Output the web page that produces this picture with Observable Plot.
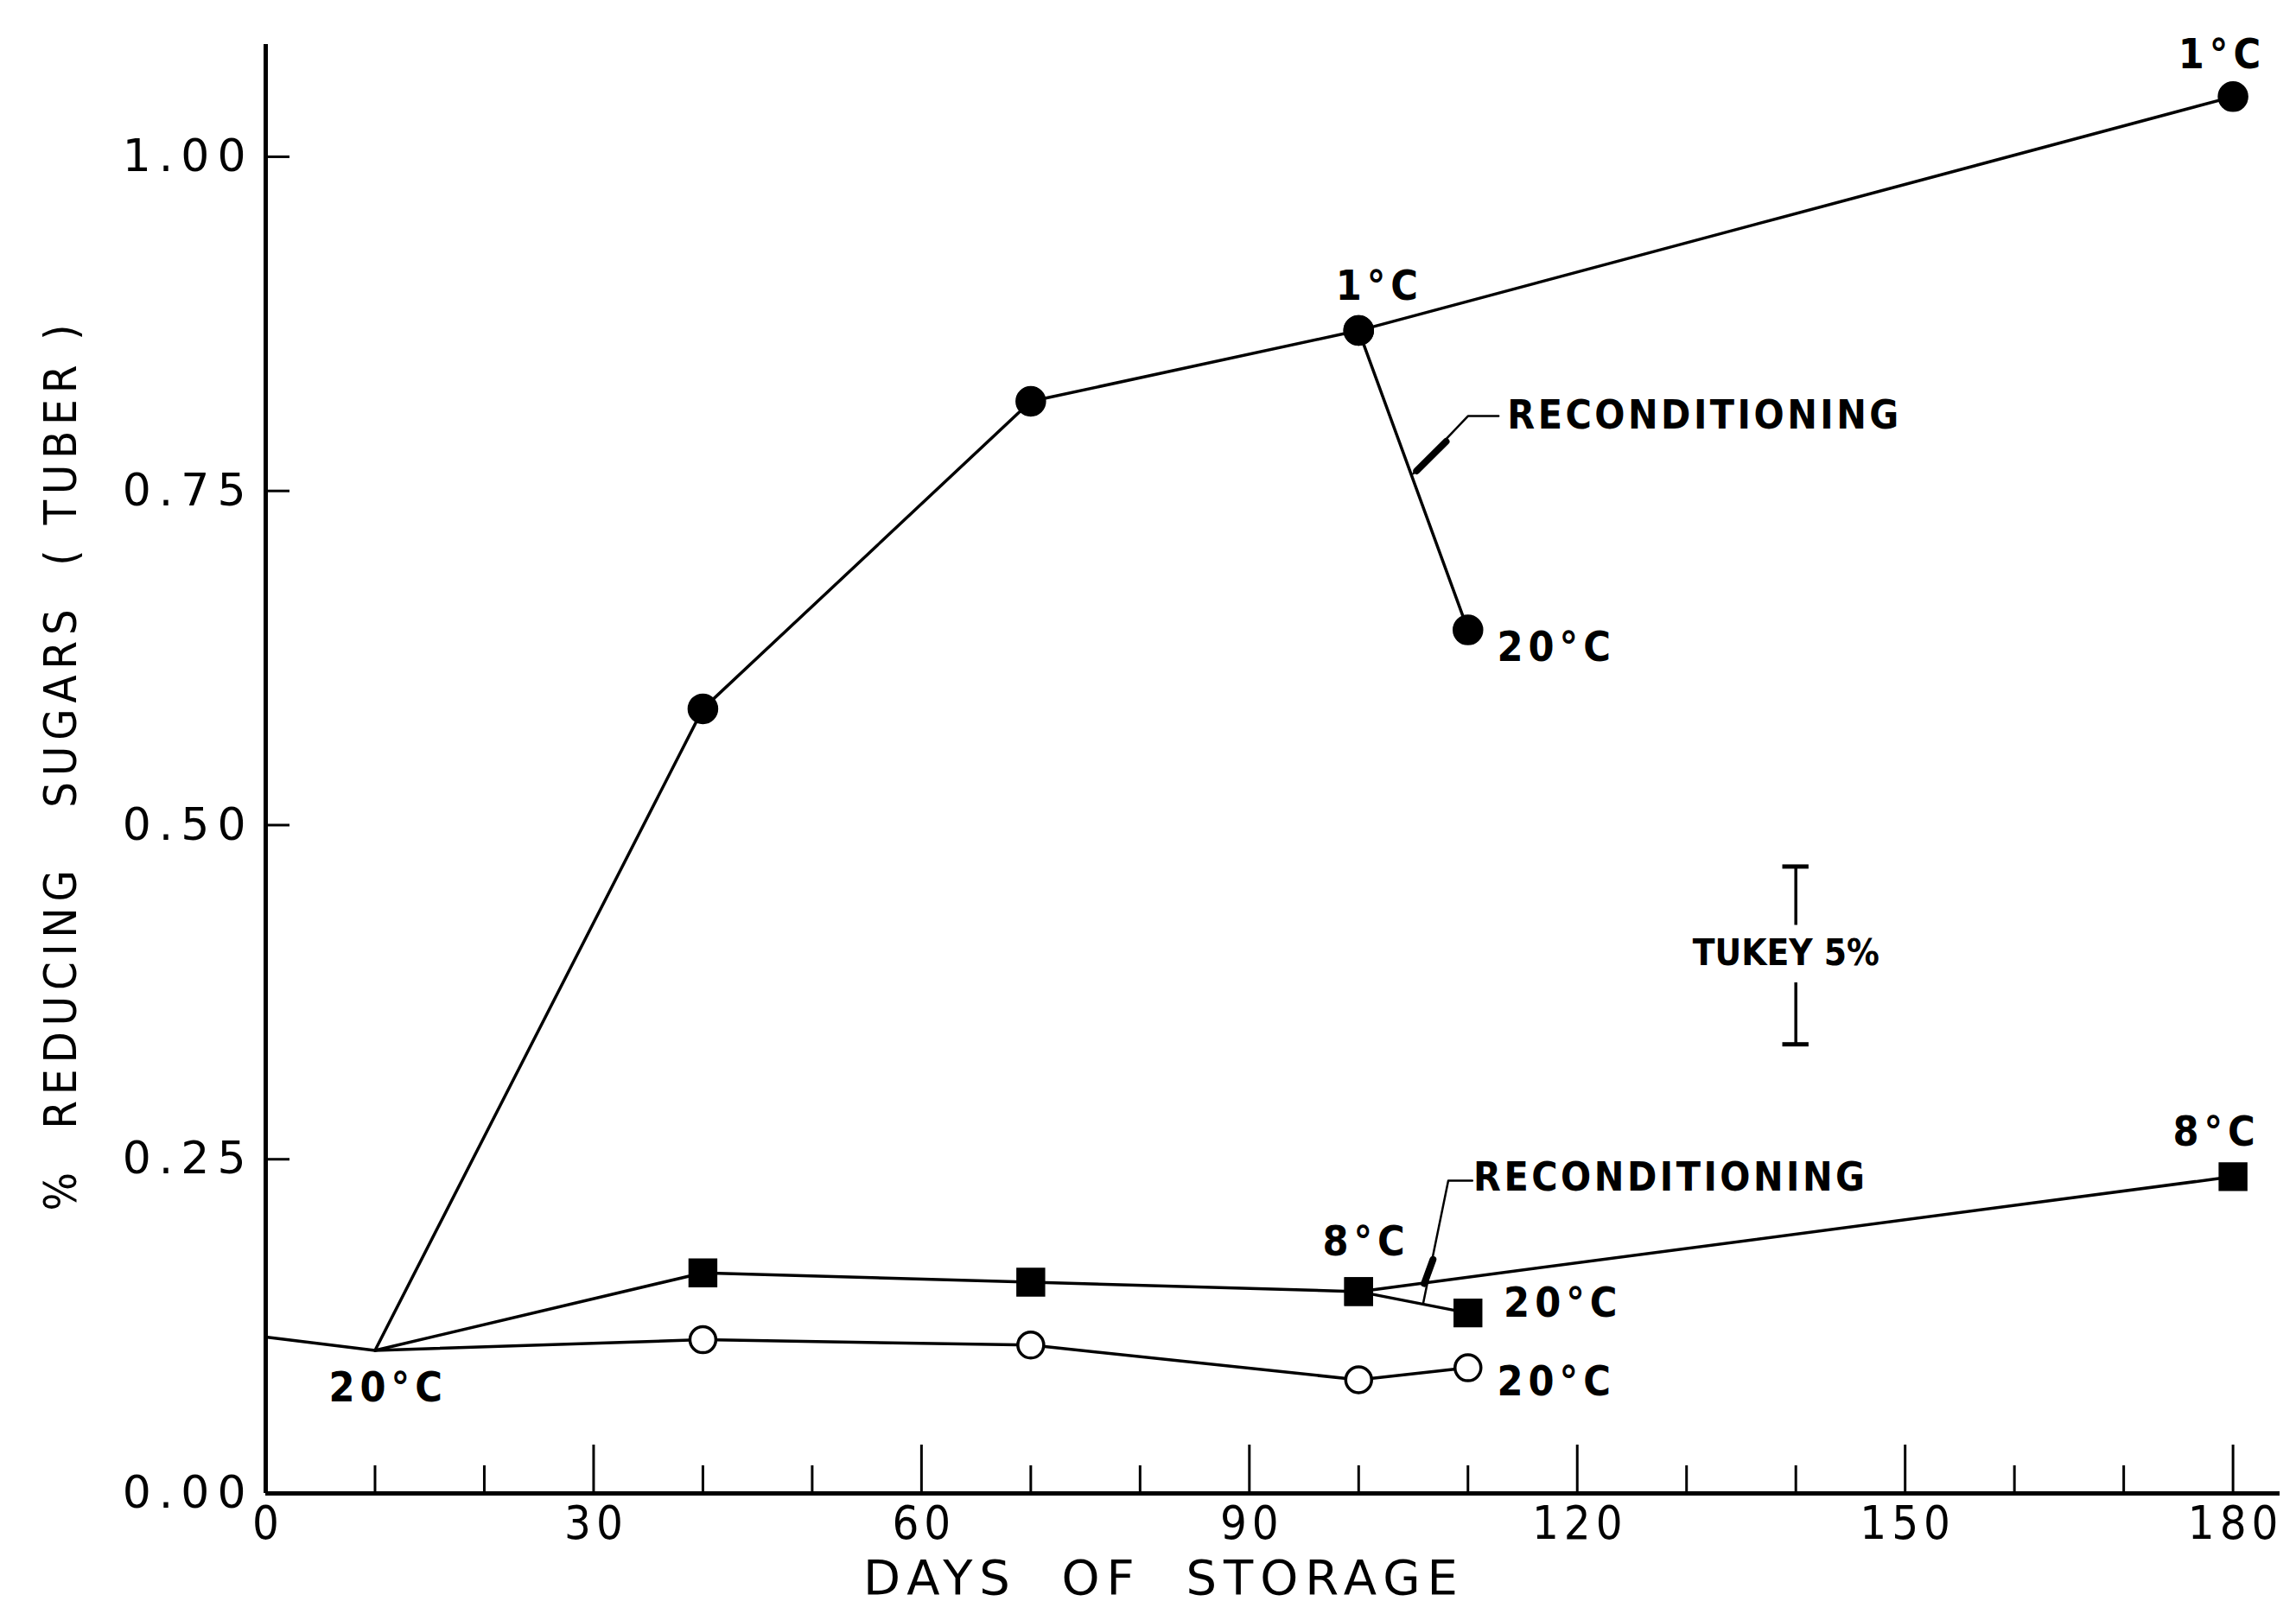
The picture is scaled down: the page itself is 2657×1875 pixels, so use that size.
<!DOCTYPE html>
<html><head><meta charset="utf-8">
<script src="https://cdn.jsdelivr.net/npm/d3@7"></script>
<script src="https://cdn.jsdelivr.net/npm/@observablehq/plot@0.6"></script>
<style>html,body{margin:0;padding:0;background:#fff;} svg{display:block}</style>
</head><body><div id="chart"></div>
<script>
// ---- data ----
const days20 = [0, 10, 40, 70, 100, 110];
const sugar20 = [0.117, 0.107, 0.115, 0.111, 0.085, 0.094];
const days1 = [10, 40, 70, 100, 180];
const sugar1 = [0.107, 0.587, 0.817, 0.870, 1.045];
const recond1Days = [100, 110];
const recond1Sugar = [0.870, 0.646];
const days8 = [10, 40, 70, 100, 180];
const sugar8 = [0.107, 0.165, 0.158, 0.151, 0.237];
const recond8Days = [100, 110];
const recond8Sugar = [0.151, 0.135];
const firstSampleDay = 40; // markers drawn from here on

const labelText = ["1°C", "1°C", "20°C", "8°C", "8°C", "20°C", "20°C", "20°C"];
const labelDay = [101.9, 179.0, 118.1, 100.7, 178.5, 118.7, 118.1, 11.2];
const labelSugar = [0.903, 1.076, 0.633, 0.188, 0.270, 0.142, 0.083, 0.079];

const recondText = ["RECONDITIONING", "RECONDITIONING"];
const recondTextDay = [113.6, 110.5];
const recondTextSugar = [0.806, 0.236];
const leader1Day = [105.0, 110.0, 112.8];
const leader1Sugar = [0.763, 0.806, 0.806];
const leader1ThickDay = [105.3, 108.0];
const leader1ThickSugar = [0.765, 0.787];
const leader8Day = [105.9, 108.2, 110.4];
const leader8Sugar = [0.142, 0.234, 0.234];
const leader8ThickDay = [106.0, 106.8];
const leader8ThickSugar = [0.157, 0.175];

const tukeyDay = 140;
const tukeyLow = 0.336;
const tukeyHigh = 0.469;
const tukeyGapLow = 0.382;
const tukeyGapHigh = 0.425;
const tukeyLabel = "TUKEY 5%";
const tukeyLabelDay = 139.1;
const tukeyLabelSugar = 0.404;

const xMajorTicks = [0, 30, 60, 90, 120, 150, 180];
const xMinorTicks = [10, 20, 40, 50, 70, 80, 100, 110, 130, 140, 160, 170];
const yTicks = [0, 0.25, 0.5, 0.75, 1.0];
const xTitle = "DAYS  OF  STORAGE";
const yTitle = "%  REDUCING   SUGARS  ( TUBER )";

// ---- build tables ----
const zip = (xs, ys) => xs.map((x, i) => ({x, y: ys[i]}));
const s20 = zip(days20, sugar20);
const s1 = zip(days1, sugar1);
const s8 = zip(days8, sugar8);
const r1 = zip(recond1Days, recond1Sugar);
const r8 = zip(recond8Days, recond8Sugar);
const labels = labelText.map((t, i) => ({t, x: labelDay[i], y: labelSugar[i]}));
const recLabels = recondText.map((t, i) => ({t, x: recondTextDay[i], y: recondTextSugar[i]}));
const mk = arr => arr.filter(d => d.x >= firstSampleDay);
const yFmt = d3.format(".2f");

const ink = "#000";
const F = "DejaVu Sans Condensed";

const chart = Plot.plot({
  width: 2657,
  height: 1875,
  marginLeft: 307,
  marginRight: 19,
  marginTop: 51,
  marginBottom: 147,
  x: {domain: [0, 184.3], label: null},
  y: {domain: [0, 1.084], label: null},
  style: {fontFamily: F, color: ink, background: "#fff"},
  marks: [
    // axes
    Plot.axisX(xMinorTicks, {tickSize: -32, tickFormat: () => "", strokeWidth: 3, label: null}),
    Plot.axisX(xMajorTicks, {tickSize: -56, tickFormat: () => "", strokeWidth: 3, label: null}),
    Plot.axisX(xMajorTicks, {tickSize: 0, tickPadding: 14, dx: 3, fontSize: 54, fontFamily: F, label: null}),
    Plot.axisY(yTicks.slice(1), {tickSize: -28, tickFormat: () => "", strokeWidth: 3, label: null}),
    Plot.axisY(yTicks, {tickSize: 0, tickPadding: 14, fontSize: 52, fontFamily: "DejaVu Sans", tickFormat: yFmt, label: null}),
    Plot.ruleX([0], {strokeWidth: 5, stroke: ink}),
    Plot.ruleY([0], {strokeWidth: 5, stroke: ink}),
    Plot.text([xTitle], {frameAnchor: "bottom", textAnchor: "middle", dx: -126, dy: 116, fontSize: 56, fontFamily: "DejaVu Sans"}),
    Plot.text([yTitle], {frameAnchor: "left", textAnchor: "middle", rotate: -90, dx: -236, dy: -5, fontSize: 52, fontFamily: F}),
    // series lines
    Plot.line(s20, {x: "x", y: "y", stroke: ink, strokeWidth: 3.5}),
    Plot.line(s1, {x: "x", y: "y", stroke: ink, strokeWidth: 3.5}),
    Plot.line(s8, {x: "x", y: "y", stroke: ink, strokeWidth: 3.5}),
    Plot.line(r1, {x: "x", y: "y", stroke: ink, strokeWidth: 3.5}),
    Plot.line(r8, {x: "x", y: "y", stroke: ink, strokeWidth: 3.5}),
    // leaders
    Plot.line(zip(leader1Day, leader1Sugar), {x: "x", y: "y", stroke: ink, strokeWidth: 2.5}),
    Plot.line(zip(leader1ThickDay, leader1ThickSugar), {x: "x", y: "y", stroke: ink, strokeWidth: 8}),
    Plot.line(zip(leader8Day, leader8Sugar), {x: "x", y: "y", stroke: ink, strokeWidth: 2.5}),
    Plot.line(zip(leader8ThickDay, leader8ThickSugar), {x: "x", y: "y", stroke: ink, strokeWidth: 8}),
    // markers
    Plot.dot(mk(s1).concat(mk(r1)), {x: "x", y: "y", r: 17, fill: ink, stroke: ink}),
    Plot.dot(mk(s8).concat(mk(r8)), {x: "x", y: "y", r: 18, symbol: "square", fill: ink, stroke: ink}),
    Plot.dot(mk(s20), {x: "x", y: "y", r: 15, fill: "#fff", stroke: ink, strokeWidth: 3.5}),
    // tukey bar
    Plot.ruleX([tukeyDay], {y1: tukeyGapHigh, y2: tukeyHigh, stroke: ink, strokeWidth: 3.5}),
    Plot.ruleX([tukeyDay], {y1: tukeyLow, y2: tukeyGapLow, stroke: ink, strokeWidth: 3.5}),
    Plot.ruleY([tukeyHigh, tukeyLow], {x1: tukeyDay - 1.2, x2: tukeyDay + 1.2, stroke: ink, strokeWidth: 5}),
    Plot.text([tukeyLabel], {x: () => tukeyLabelDay, y: () => tukeyLabelSugar, fontSize: 42, fontWeight: "bold", fontFamily: F}),
    // labels
    Plot.text(labels, {x: "x", y: "y", text: "t", fontSize: 48, fontWeight: "bold", fontFamily: F}),
    Plot.text(recLabels, {x: "x", y: "y", text: "t", textAnchor: "start", fontSize: 46, fontWeight: "bold", fontFamily: F})
  ]
});
document.getElementById("chart").appendChild(chart);
// letter spacing, matched by text content
const spacing = new Map();
xMajorTicks.forEach(d => spacing.set(String(d), "6px"));
yTicks.forEach(d => spacing.set(yFmt(d), "9px"));
spacing.set(xTitle, "8px");
spacing.set(yTitle, "7px");
labelText.forEach(t => spacing.set(t, "6px"));
recondText.forEach(t => spacing.set(t, "3.5px"));
d3.select(chart).selectAll("text").each(function() {
  const v = spacing.get(this.textContent);
  if (v) this.style.letterSpacing = v;
});
</script>
</body></html>
